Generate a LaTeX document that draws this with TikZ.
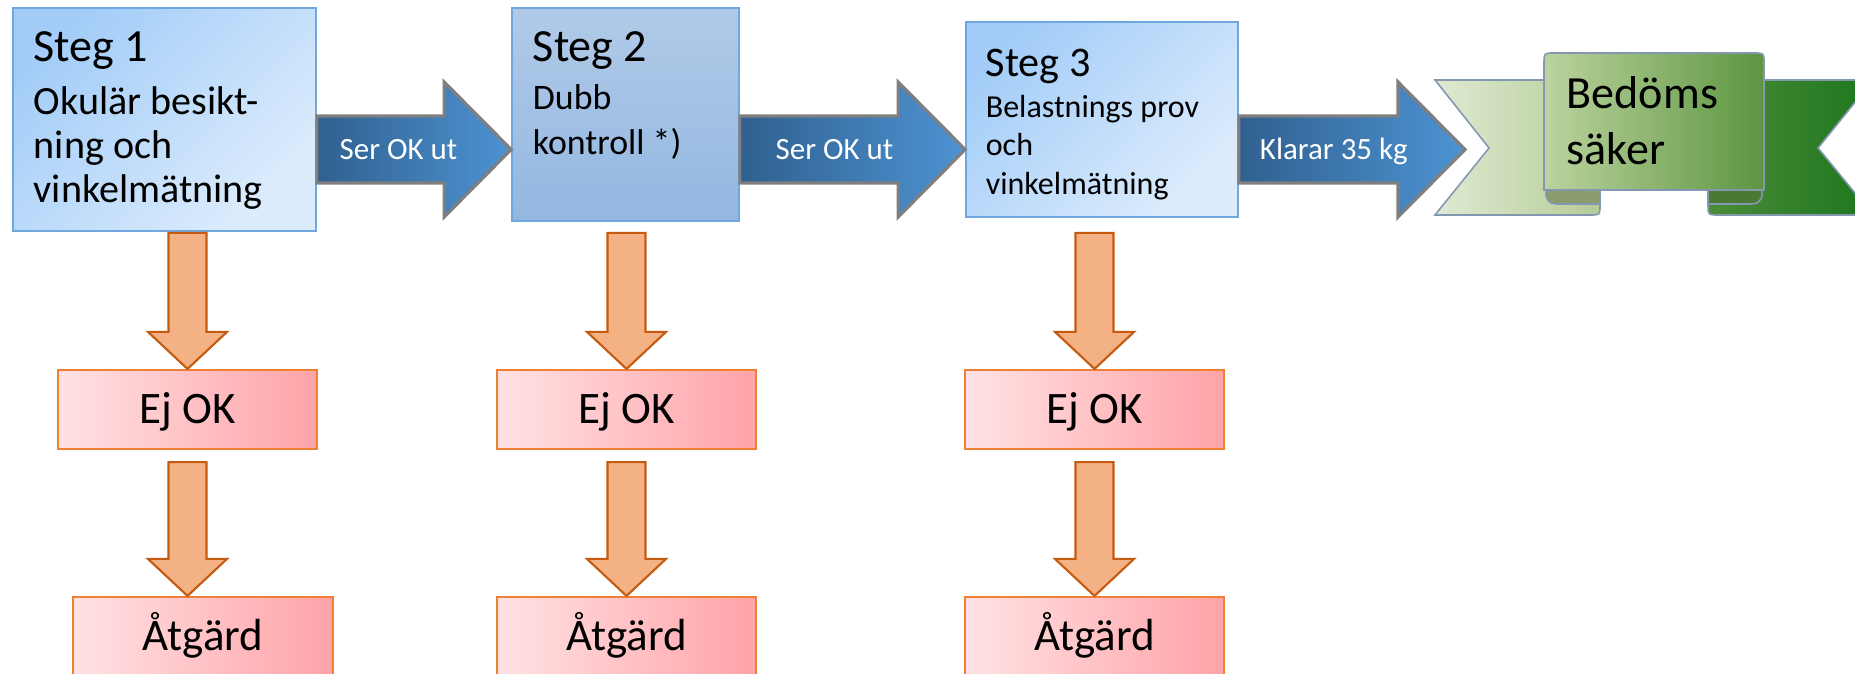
\documentclass[tikz,border=0pt]{standalone}
\usepackage{fontspec}
\setmainfont{Carlito}
\usetikzlibrary{calc,positioning}

\definecolor{stepblue}{HTML}{A3CDF8}
\definecolor{steplight}{HTML}{DDECFC}
\definecolor{steptop}{HTML}{B1CAE8}
\definecolor{stepbottom}{HTML}{93B7E1}
\definecolor{stepline}{HTML}{6FA7DE}
\definecolor{okdark}{HTML}{30608F}
\definecolor{oklight}{HTML}{4D93D3}
\definecolor{okline}{HTML}{7F7F7F}
\definecolor{failfill}{HTML}{F4B183}
\definecolor{failline}{HTML}{C55A11}
\definecolor{pinklight}{HTML}{FFE2E4}
\definecolor{pinkdark}{HTML}{FFA3A8}
\definecolor{pinkline}{HTML}{EE8036}
\definecolor{ribbonline}{HTML}{8497B0}
\definecolor{leftendA}{HTML}{DFEAD3}
\definecolor{leftendB}{HTML}{B5CC95}
\definecolor{panelA}{HTML}{BCD39F}
\definecolor{panelB}{HTML}{5C9540}
\definecolor{rightendA}{HTML}{4C8C39}
\definecolor{rightendB}{HTML}{1C771C}
\definecolor{foldleft}{HTML}{8A9C6E}
\definecolor{foldright}{HTML}{4B7935}

\tikzset{
  stepbox/.style={draw=stepline, line width=0.45pt, inner sep=0pt,
    top color=stepblue, bottom color=steplight, shading angle=45},
  steptext/.style={align=flush left, inner sep=0pt},
  okarrow/.style={draw=okline, line width=0.9pt, left color=okdark, right color=oklight},
  oklabel/.style={text=white, inner sep=0pt, text height=5.7pt, text depth=0pt,
    font=\fontsize{8.8}{10.5}\selectfont},
  failarrow/.style={draw=failline, line width=0.6pt, fill=failfill},
  failbox/.style={draw=pinkline, line width=0.6pt, left color=pinklight, right color=pinkdark,
    minimum width=2.59cm, minimum height=0.79cm, inner sep=0pt,
    text height=10.7pt, text depth=2.6pt, font=\fontsize{12.8}{15}\selectfont},
  ribbon/.style={draw=ribbonline, line width=0.45pt}
}

% block arrow: start, tip, label
\newcommand{\okarrow}[3]{
  \draw[okarrow] ($(#1)+(0,-33.5)$) -- ($(#2)+(-67,-33.5)$) -- ($(#2)+(-67,-67.5)$) -- (#2)
    -- ($(#2)+(-67,67.5)$) -- ($(#2)+(-67,33.5)$) -- ($(#1)+(0,33.5)$) -- cycle;
  \node[oklabel] (#1-label) at ($(#1)!0.42!(#2)$) {#3};
}
% down arrow: top, tip
\newcommand{\failarrow}[2]{
  \draw[failarrow] ($(#1)+(-19,0)$) -- ($(#2)+(-19,-37)$) -- ($(#2)+(-39.5,-37)$) -- (#2)
    -- ($(#2)+(39.5,-37)$) -- ($(#2)+(19,-37)$) -- ($(#1)+(19,0)$) -- cycle;
}

\begin{document}
\begin{tikzpicture}[x=0.01cm,y=-0.01cm]
	\useasboundingbox (0,0) rectangle (1855,674);
	%\draw[help lines,step=100] (0,0) grid (1855,674);

	\node[stepbox, minimum width=3.03cm, minimum height=2.23cm] (steg1) at (164.5,119.5) {};
	\node[stepbox, top color=steptop, bottom color=stepbottom, shading angle=0,
		minimum width=2.27cm, minimum height=2.13cm] (steg2) at (625.5,114.5) {};
	\node[stepbox, minimum width=2.72cm, minimum height=1.95cm] (steg3) at (1102,119.5) {};

	\node[steptext, text width=2.7cm, font=\fontsize{11.4}{12.5}\selectfont,
		below right=0.24cm and 0.21cm of steg1.north west] (steg1txt)
		{{\fontsize{13.1}{15}\selectfont Steg 1}\\[2.6pt]Okulär besikt-\\ning och\\vinkelmätning};
	\node[steptext, text width=2.0cm, font=\fontsize{10.2}{12.8}\selectfont,
		below right=0.24cm and 0.21cm of steg2.north west] (steg2txt)
		{{\fontsize{13.1}{15}\selectfont Steg 2}\\[0.9pt]Dubb\\kontroll *)};
	\node[steptext, text width=2.4cm, font=\fontsize{9.1}{10.95}\selectfont,
		below right=0.27cm and 0.2cm of steg3.north west] (steg3txt)
		{{\fontsize{12}{14}\selectfont Steg 3}\\[0.7pt]Belastnings prov\\och\\vinkelmätning};

	\coordinate (lane) at (0,149.5);
	\coordinate (from1) at (steg1.east |- lane);
	\coordinate (to1) at (steg2.west |- lane);
	\coordinate (from2) at (steg2.east |- lane);
	\coordinate (to2) at (steg3.west |- lane);
	\coordinate (from3) at (steg3.east |- lane);
	\coordinate (to3) at (1465,149.5);
	\okarrow{from1}{to1}{Ser OK ut}
	\okarrow{from2}{to2}{Ser OK ut}
	\okarrow{from3}{to3}{Klarar 35 kg}

	\node[failbox] (ejok1) at (187.5,409.5) {Ej OK};
	\node[failbox] (ejok2) at (626.5,409.5) {Ej OK};
	\node[failbox] (ejok3) at (1094.5,409.5) {Ej OK};
	\node[failbox] (atgard1) at (203,636.5) {Åtgärd};
	\node[failbox] (atgard2) at (626.5,636.5) {Åtgärd};
	\node[failbox] (atgard3) at (1094.5,636.5) {Åtgärd};

	\foreach \i in {1,2,3}{
		\coordinate (up\i) at ($(ejok\i.north)+(0,-136)$);
		\failarrow{up\i}{ejok\i.north}
		\coordinate (dn\i) at ($(ejok\i.south)+(0,12)$);
		\coordinate (hit\i) at (ejok\i.south |- atgard\i.north);
		\failarrow{dn\i}{hit\i}
	}

	\draw[ribbon, left color=leftendA, right color=leftendB] (1435,80) -- (1600,80) -- (1600,205)
		.. controls (1600,215) .. (1590,215) -- (1435,215) -- (1489,148) -- cycle;
	\draw[ribbon, left color=rightendA, right color=rightendB] (1873,80) -- (1708,80) -- (1708,205)
		.. controls (1708,215) .. (1718,215) -- (1873,215) -- (1818,148) -- cycle;
	\draw[ribbon, fill=foldleft] (1600,185) -- (1553,185) .. controls (1543,185) and (1543,204) .. (1556,204)
		-- (1600,204) -- cycle;
	\draw[ribbon, fill=foldright] (1708,185) -- (1755,185) .. controls (1765,185) and (1765,204) .. (1752,204)
		-- (1708,204) -- cycle;
	\draw[ribbon, left color=panelA, right color=panelB] (1544,190) -- (1544,63) .. controls (1544,53) .. (1554,53)
		-- (1754,53) .. controls (1764,53) .. (1764,63) -- (1764,190) -- cycle;
	\node[steptext, anchor=north west, font=\fontsize{13.1}{15.9}\selectfont] (bedoms) at (1566,76) {Bedöms\\säker};
\end{tikzpicture}
\end{document}
